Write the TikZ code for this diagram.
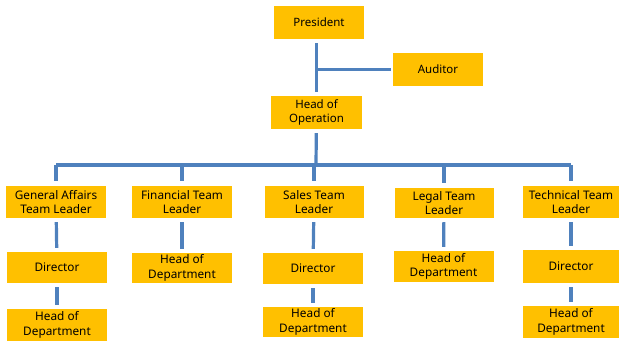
\documentclass[tikz,border=0pt]{standalone}
\usepackage{fontspec}
\setmainfont{Noto Sans}
\definecolor{boxgold}{HTML}{FFC000}
\definecolor{linkblue}{HTML}{4F81BD}
\begin{document}
\begin{tikzpicture}[
    x=1pt, y=-1pt,
    unit/.style={fill=boxgold, minimum width=100pt, minimum height=32pt, inner sep=1pt, font=\fontsize{11.8}{14.5}\selectfont, align=center},
    head/.style={unit, minimum width=90pt, minimum height=33pt, font=\fontsize{11.5}{14.5}\selectfont\bfseries},
    link/.style={draw=linkblue, line width=3.2pt, shorten <=4pt, shorten >=4pt},
]
\useasboundingbox (0,0) rectangle (620,340);
% Top of the chart
\node[head] (pres) at (319, 22.5) {President};
\node[head] (aud) at (438, 69.5) {Auditor};
\node[head, minimum width=91pt] (hoo) at (316.5, 112.5) {Head of\\Operation};
\coordinate (bus) at (316, 165);
% Team leaders
\node[unit] (ga) at (56, 202) {General Affairs\\Team Leader};
\node[unit] (fin) at (182, 202) {Financial Team\\Leader};
\node[unit, minimum width=99pt] (sales) at (314, 202) {Sales Team\\Leader};
\node[unit, minimum width=99pt, minimum height=30pt] (legal) at (444, 203) {Legal Team\\Leader};
\node[unit, minimum width=96pt] (tech) at (571, 202) {Technical Team\\Leader};
% Directors and heads of department
\node[unit, minimum height=31pt] (gadir) at (57, 267.5) {Director};
\node[unit] (gahod) at (57, 325) {Head of\\Department};
\node[unit, minimum height=30pt] (finhod) at (182, 268) {Head of\\Department};
\node[unit, minimum height=31pt] (salesdir) at (313, 268.5) {Director};
\node[unit, minimum height=30pt] (saleshod) at (313, 322) {Head of\\Department};
\node[unit, minimum height=31pt] (legalhod) at (443.5, 266.5) {Head of\\Department};
\node[unit, minimum width=96pt, minimum height=33pt] (techdir) at (571, 266.5) {Director};
\node[unit, minimum width=96pt] (techhod) at (571, 322) {Head of\\Department};
% Links at the top
\draw[link] (pres.south -| hoo) -- (hoo);
\draw[link, shorten >=0pt, shorten <=2pt] (aud.west) -- (aud.west -| hoo);
\draw[link, shorten >=0pt] (hoo) -- (bus);
\draw[link, shorten <=0pt, shorten >=0pt] (ga.north |- bus) -- (tech.north |- bus);
\foreach \n in {ga,fin,sales,legal,tech}
    \draw[link, shorten <=0pt, shorten >=5pt] (\n.north |- bus) -- (\n.north);
% Links inside the teams
\draw[link] (ga) -- (gadir);
\draw[link] (gadir) -- (gahod);
\draw[link] (fin) -- (finhod);
\draw[link] (sales) -- (salesdir);
\draw[link] (salesdir) -- (saleshod);
\draw[link] (legal) -- (legalhod);
\draw[link] (tech) -- (techdir);
\draw[link] (techdir) -- (techhod);
\end{tikzpicture}
\end{document}
